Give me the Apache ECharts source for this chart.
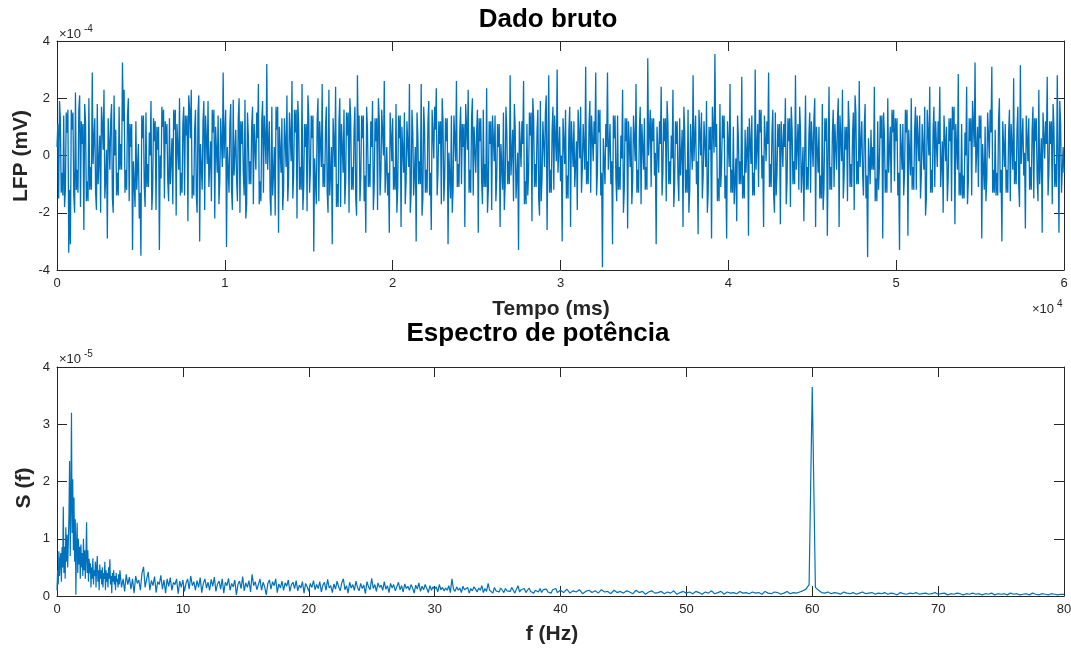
<!DOCTYPE html>
<html>
<head>
<meta charset="utf-8">
<script src="https://cdn.jsdelivr.net/npm/echarts@6/dist/echarts.min.js"></script>
<style>
  html, body { margin: 0; padding: 0; background: #fff; }
  #main { width: 1071px; height: 650px; }
</style>
</head>
<body>
<div id="main"></div>
<script>
// sinal bruto, unidades de 1e-4 mV
// amostras em t = i*100 ms
var dt = 100;
var lfp0a20 = [
  0.3, -1.5, 1.3, -0.6, 1.4, -1.2, 0.8, -3.4, -3.1, 0.9, -1.4, 2.2, -0.5, 1.6, -1.8, 0.4, -2.6, 1.2, -0.9, 2.0,
  -0.4, 2.9, 0.6, -1.3, 1.8, -0.2, -2.0, 1.1, 2.3, -0.8, -2.9, 0.5, 1.2, -1.5, 2.1, 0.9, -0.6, 1.7, 0.4, 3.25,
  2.3, -0.5, 1.4, -1.6, 0.3, -3.3, -1.0, 1.2, -0.4, -2.2, -3.5, 0.6, -1.1, 1.5, -0.3, 0.8, 1.9, -1.2, 0.5, -1.9,
  0.2, -3.3, -0.8, 1.0, -1.5, 0.4, -0.9, 1.3, -0.2, -1.7, 0.9, -2.1, 0.3, 2.0, -0.6, 1.1, -1.4, 0.7, -2.3, 1.6,
  2.3, -0.7, 0.9, -1.4, 1.5, -3.0, -0.4, 1.2, -1.9, 0.6, 1.9, -0.3, -1.6, 0.8, -2.2, 0.2, 1.4, -0.9, 0.5, 2.9,
  0.8, -3.2, -0.5, 1.1, -1.2, 1.95, 0.1, -0.8, 1.3, -2.0, 0.4, -0.6, 1.95, -1.7, 0.7, -0.2, 1.0, -1.7, 0.3, 1.5,
  2.5, -0.9, 1.2, -1.3, 0.6, 3.2, 0.4, -1.5, 1.7, -0.6, -2.1, 0.9, -2.7, 0.2, 1.3, -1.2, 0.5, 2.1, -0.8, 0.7,
  2.6, -0.7, 0.8, -2.2, 1.1, -0.4, 2.5, -1.1, 0.3, -1.95, 1.4, -0.5, 0.6, -3.35, -0.9, 1.2, -1.6, 0.4, 2.5, -0.3,
  1.0, -1.3, 2.3, -0.6, -3.1, 0.5, 2.4, -1.0, 1.2, -1.8, 0.3, 1.6, -0.9, 0.7, -2.0, 1.3, -0.4, 0.9, -1.5, 2.8,
  1.4, -0.8, 0.6, -1.6, -2.7, 0.9, -0.3, 1.2, 1.9, -1.1, 0.5, -1.9, 1.3, -0.6, 0.8, 2.6, -0.5, -1.4, -2.7, 0.7
];
var lfp20a40 = [
  1.3, -0.4, 1.8, -1.2, 0.6, -2.5, 0.2, 1.5, -0.9, 0.4, 2.5, -1.3, 0.8, -0.6, -3.0, 0.7, -0.2, 2.5, -1.5, 0.9,
  -0.5, 1.1, -1.4, -2.6, 0.8, 1.7, 2.35, -0.6, 0.4, -1.7, 1.2, -0.8, 0.5, -3.1, -0.7, 1.4, -1.2, 0.6, 2.6, -0.3,
  0.9, -1.0, 0.3, -2.5, 1.0, 2.3, -0.5, 1.3, -1.4, 0.2, 0.8, -2.7, 0.5, -0.9, 1.6, -0.3, 2.35, -1.2, 0.4, -1.9,
  0.6, 1.4, -0.8, 0.3, -2.5, -0.4, 1.5, -1.1, 0.9, -0.2, 2.8, 0.1, -1.6, 1.0, -0.7, -3.3, 0.4, 1.2, 2.6, -0.9,
  1.1, -0.6, 0.7, -2.3, 1.3, -0.3, 0.8, -1.5, 1.9, -0.8, 0.4, 1.5, -2.6, 2.8, -0.5, 0.9, -1.2, 0.6, 3.0, 0.2,
  -0.9, -3.0, 0.5, 1.6, -0.7, 0.9, -2.5, 0.4, 1.2, -0.3, -1.9, 0.8, 1.7, -0.5, 0.3, 3.1, -0.2, 1.1, -1.3, 0.6,
  1.2, 2.9, -0.6, 0.8, -1.4, -3.9, -0.2, 1.1, 2.9, 0.3, -1.0, -3.1, 0.6, -0.8, 1.4, -0.4, 0.7, 2.3, -1.2, 0.5,
  -2.55, 0.4, 1.0, -0.9, 0.6, 2.5, -0.5, 0.9, -1.7, 0.3, 1.3, -0.4, 3.4, 0.8, -1.1, 0.5, -0.7, -3.1, 0.2, 1.2,
  2.4, -0.6, 0.5, -1.6, 1.1, -0.2, 0.7, 2.3, -1.0, 0.4, -0.8, 1.3, 0.1, -2.5, 0.9, -0.5, 1.6, -1.2, 0.3, 2.8,
  0.6, -1.0, -2.75, 0.8, 1.5, -0.7, 0.4, 1.9, -1.3, 0.2, -2.9, 0.9, 3.55, 1.1, -0.8, 1.8, -0.3, 0.6, -1.5, -2.9
];
var lfp40a60 = [
  0.4, 2.5, -0.5, 1.0, -0.9, -2.3, 0.6, -0.2, 2.75, -0.7, 0.9, 0.2, -2.8, 0.5, 1.4, -0.6, 3.0, 0.3, -1.1, 0.8,
  -0.8, -2.5, 0.6, 1.2, 2.9, -0.3, 0.8, -1.4, 1.5, -0.6, 0.3, -2.4, 0.4, 1.1, 2.0, -0.9, 0.5, -1.8, 0.9, -0.2,
  2.8, 0.3, -1.2, 0.9, -0.5, -2.3, 2.1, -0.4, 0.7, -1.3, 0.4, 1.3, -2.5, 0.2, 1.0, -0.7, 1.8, -1.1, 0.5, -2.8,
  2.4, -0.4, 0.8, -1.1, 0.3, 1.2, -2.5, 0.6, 2.3, -0.7, 0.2, -1.6, 1.1, -0.3, 0.7, -1.9, 1.5, -0.2, 2.6, 0.4,
  -0.6, 1.0, -1.5, -3.55, -0.2, 0.9, 0.3, 2.4, -0.8, 1.2, -0.4, 0.6, -2.9, 0.7, -0.5, 2.0, 0.2, -1.3, 0.8, -0.9,
  0.5, -1.4, -3.3, 0.3, 1.1, -0.6, 0.8, -2.8, 0.1, 2.0, -0.4, 0.9, -1.2, 0.6, 1.4, -0.7, 0.3, 1.7, -1.5, 0.8,
  2.4, -0.5, 0.9, -1.1, 0.4, 1.2, 2.4, -0.3, -2.0, 0.6, 1.0, -0.8, 0.5, -1.6, 0.9, -2.4, 0.3, 2.85, -0.6, 1.1,
  -0.7, 0.8, 2.4, -0.9, 0.5, -1.4, 1.1, 3.25, 0.2, -1.1, 0.6, -2.9, -0.4, 1.0, -0.8, 0.7, 1.6, 3.1, -0.5, 0.9,
  -0.6, 1.2, -1.3, -3.0, 0.4, 1.1, -0.5, 0.8, -1.6, 0.3, 2.7, -0.2, 0.9, -1.0, 3.15, 0.5, -0.7, -2.55, 0.6, 1.3,
  -0.4, 0.9, -1.5, 0.5, -0.8, 2.3, -0.2, -2.7, 0.7, 1.2, 2.75, -0.6, 0.4, -1.7, 1.0, -0.3, 2.8, -2.7, 1.1, -0.5,
  -0.6
];
// amostras intermediarias em t = i*100 + 50 ms
var meio0a20 = [
  1.1, 1.9, -1.3, -1.4, -1.8, 1.5, 1.6, -1.2, 1.6, 1.5, -2.0, -1.2, -1.3, 2.1, 1.2, 1.1, 1.8, -1.6, -1.6, -1.2,
  -1.2, -0.3, 1.3, -1.9, -1.0, 0.7, 1.7, 0.2, -1.5, 0.2, 1.3, -0.5, 1.8, -2.0, 0.0, -1.4, -1.4, -0.5, -0.5, 1.2,
  -1.3, -1.2, 2.0, 1.1, 1.1, -0.2, -1.8, -1.2, 0.4, -1.3, 1.4, 1.4, -1.8, -1.1, -1.1, 0.0, -1.9, 1.3, 1.2, 1.0,
  1.0, 0.0, 1.7, 1.6, 1.2, 1.1, -1.6, -1.0, 0.6, 1.6, 1.6, 1.1, -0.5, -1.4, -1.3, 1.7, 1.4, 1.4, 2.1, 0.6,
  -1.5, -1.4, 1.6, -2.0, 2.1, 0.4, -1.2, 1.9, 1.4, -0.3, -1.1, 0.5, 1.6, 1.6, 1.0, -0.6, -1.7, 1.3, -0.4, -0.1,
  1.6, 0.3, -1.3, 1.8, -1.9, -0.7, 0.9, -1.6, 2.0, 1.2, 1.2, -1.4, -2.2, 1.5, -1.0, -1.0, 1.7, 1.1, -0.5, 0.6,
  -1.7, -1.6, 1.9, 1.4, -0.3, -0.5, 1.2, -2.1, -1.4, 0.3, 1.7, 1.7, 1.0, -0.6, -1.9, 1.3, -0.4, -1.6, 1.5, -0.2,
  -1.5, 1.6, 1.6, 1.9, -1.2, -1.2, -1.9, 1.1, 1.1, 2.1, -1.3, 1.4, 1.4, -0.1, -1.7, 2.0, 1.2, -0.4, -1.1, -1.1,
  1.7, -2.0, -1.4, 0.3, 1.3, -0.4, -1.8, -1.8, 2.0, 1.1, -0.6, -1.7, 1.5, 1.5, 2.0, -1.2, -1.2, 1.7, -2.1, 0.5,
  -1.6, 1.4, 1.4, -0.7, 1.7, -1.1, -1.1, 0.3, -1.9, 1.3, 1.3, 2.0, -1.4, 1.6, 0.0, -1.3, 0.3, -0.6, 1.5, -0.2
];
var meio20a40 = [
  -1.2, -1.2, -2.0, 1.4, 1.4, 1.0, -0.6, -1.7, 1.2, -0.4, -2.0, 1.6, -1.4, 0.3, 1.5, -1.0, -1.0, -2.1, 1.7, -1.3,
  -1.3, 1.9, -0.6, 1.6, -0.1, 0.9, -1.4, 1.2, 1.2, 2.0, -1.6, 1.3, 1.3, 0.1, -1.5, -2.0, 1.4, -0.2, -1.1, -1.1,
  1.7, 1.1, 1.1, 1.8, 0.2, -1.3, -1.3, 2.0, 1.0, -0.6, 1.6, 1.3, 1.3, -1.7, -1.1, -1.1, -2.0, 1.2, 1.2, 1.4,
  -0.2, -1.6, 1.1, 1.1, 0.4, -1.2, -1.9, 1.7, -1.0, -1.0, -0.7, 0.9, 1.8, -1.5, 0.1, 1.2, -0.4, 0.4, -1.7, -1.7,
  -1.4, 1.5, 1.5, 2.0, -1.1, -1.1, 1.6, -2.1, -1.6, 1.2, -0.4, 2.1, 0.1, -1.3, -1.3, 1.7, 1.4, -0.2, -0.6, 1.0,
  0.0, 1.3, -0.3, -1.5, -1.5, 1.7, 1.2, -0.4, -1.1, 0.5, 1.6, -0.1, -1.3, 1.1, -0.5, -1.0, -1.0, 1.9, 1.4, -0.2,
  0.4, -1.4, 1.6, 1.6, -0.6, 0.6, -1.0, 0.3, -0.5, 1.1, -0.2, 1.4, 1.4, -1.6, -1.2, -1.2, -0.1, -2.0, 1.3, 1.3,
  1.2, -0.4, -1.7, 1.4, -0.2, -1.3, -1.3, 1.7, 1.1, -0.5, -1.2, -1.2, 0.0, 1.6, 1.3, 1.3, 0.1, 1.0, -0.6, 0.4,
  -1.4, 1.3, 1.3, 1.9, -1.0, -1.0, -0.1, -1.8, 1.2, 1.2, -1.6, -0.7, 0.9, 1.7, -1.3, -1.3, -2.0, 1.1, -0.5, -0.2,
  1.4, -0.2, 1.6, 0.0, -1.5, 1.2, -0.4, -2.0, 1.0, 1.0, 1.7, 0.1, 0.3, -1.6, -1.6, -1.1, 1.4, 1.4, -0.7, 1.2
];
var meio40a60 = [
  -0.4, -1.3, -1.3, -1.7, -0.1, 1.4, -1.0, -1.0, -1.5, -1.5, -0.6, 1.0, 1.3, -0.3, -1.4, -1.4, -0.5, 1.1, 1.6, 1.6,
  0.0, 1.4, -0.2, 0.4, -1.1, -1.1, 1.6, -2.0, -1.4, 1.1, 1.1, 1.2, -0.4, 0.3, -1.7, 1.3, 1.3, 1.7, -1.0, -1.0,
  -0.5, 1.1, 1.7, -1.3, 0.3, 0.1, -1.2, -1.2, 1.5, 1.2, -0.4, 2.0, 1.0, -0.6, -1.5, -1.5, -1.9, 1.3, 1.3, 0.1,
  -1.2, -1.2, 1.6, 1.1, -0.5, 2.0, 1.4, -0.2, -1.5, 1.0, 1.0, 1.9, -1.1, -1.1, 1.5, 2.1, -1.0, -1.0, -0.4, 1.2,
  -1.4, 1.8, -0.7, 0.6, -1.0, -0.5, -0.5, -1.6, -1.6, -1.2, 1.4, 1.4, 1.5, -1.3, -1.3, -0.6, 1.0, 1.6, 1.6, 1.3,
  1.3, -0.6, 1.1, -0.5, -1.4, 1.6, 1.6, 0.9, -0.7, -1.2, -1.2, 1.7, 1.4, -0.2, -1.5, 1.1, -0.5, -2.1, 1.6, 0.0,
  -1.3, -1.3, 1.7, 1.2, -0.4, 0.4, -1.1, 0.5, 1.4, -0.2, -1.6, 1.3, 1.3, 1.7, 1.7, 1.1, -0.5, -1.4, -1.4, -1.5,
  -1.5, 0.0, -1.7, 1.3, 1.3, 1.9, 0.3, -0.6, 1.0, 1.4, 1.4, 0.4, -1.2, -1.6, 1.5, -0.1, 0.8, -1.3, -1.3, -1.4,
  -1.4, 2.0, -0.5, 1.2, -0.4, -1.3, -1.3, 1.6, 1.1, -0.5, -1.0, -1.0, 1.7, -1.8, -0.3, 1.3, 0.1, 1.4, -0.2, -1.2,
  -1.2, 1.7, 1.3, 1.3, -1.6, -1.0, 0.6, 1.5, -0.1, 0.4, -1.4, 1.2, 1.2, 1.8, -1.1, -1.1, 0.0, 1.9, -1.3, 0.3
];

// espectro, unidades de 1e-5
// 0 a 4.95 Hz, passo 0.05 Hz
var specA = [
  0.1, 0.45, 0.2, 0.78, 0.35, 0.6, 0.75, 0.25, 0.85, 0.5,
  1.56, 0.4, 0.86, 0.3, 1.2, 0.6, 1.07, 0.5, 0.95, 1.4,
  2.36, 0.7, 1.6, 3.2, 1.1, 2.04, 0.8, 1.72, 0.6, 1.34,
  0.02, 0.9, 1.28, 0.4, 1.0, 0.55, 0.86, 0.3, 0.9, 0.5,
  0.75, 0.35, 1.0, 0.45, 0.8, 0.3, 0.7, 1.29, 0.4, 0.8,
  0.25, 0.65, 0.4, 0.57, 0.15, 0.5, 0.3, 0.66, 0.2, 0.45,
  0.35, 0.6, 0.15, 0.5, 0.7, 0.25, 0.45, 0.1, 0.55, 0.3,
  0.45, 0.2, 0.5, 0.15, 0.4, 0.3, 0.6, 0.1, 0.45, 0.25,
  0.4, 0.15, 0.5, 0.3, 0.64, 0.2, 0.35, 0.05, 0.4, 0.25,
  0.45, 0.2, 0.35, 0.1, 0.4, 0.25, 0.3, 0.15, 0.38, 0.2
];
// 5 a 39.875 Hz, passo 0.125 Hz
var specB = [
  0.45, 0.15, 0.3, 0.08, 0.38, 0.2, 0.33, 0.12,
  0.3, 0.05, 0.35, 0.22, 0.28, 0.1, 0.4, 0.51,
  0.15, 0.3, 0.42, 0.1, 0.27, 0.18, 0.34, 0.06,
  0.25, 0.2, 0.36, 0.12, 0.28, 0.05, 0.3, 0.17,
  0.32, 0.1, 0.24, 0.2, 0.3, 0.04, 0.26, 0.15,
  0.28, 0.08, 0.22, 0.3, 0.12, 0.35, 0.18, 0.25,
  0.1, 0.27, 0.15, 0.32, 0.06, 0.22, 0.3, 0.14,
  0.24, 0.1, 0.29, 0.17, 0.33, 0.08, 0.21, 0.26,
  0.12, 0.3, 0.05, 0.24, 0.18, 0.31, 0.1, 0.22,
  0.16, 0.28, 0.02, 0.2, 0.26, 0.13, 0.34, 0.09,
  0.23, 0.15, 0.27, 0.07, 0.38, 0.18, 0.25, 0.11,
  0.2, 0.3, 0.1, 0.24, 0.16, 0.02, 0.22, 0.28,
  0.12, 0.25, 0.18, 0.3, 0.06, 0.21, 0.14, 0.26,
  0.1, 0.23, 0.17, 0.28, 0.08, 0.2, 0.24, 0.13,
  0.27, 0.09, 0.19, 0.14, 0.25, 0.05, 0.22, 0.16,
  0.08, 0.22, 0.15, 0.27, 0.11, 0.2, 0.13, 0.25,
  0.07, 0.19, 0.24, 0.1, 0.29, 0.14, 0.18, 0.06,
  0.21, 0.12, 0.26, 0.16, 0.09, 0.23, 0.3, 0.11,
  0.18, 0.05, 0.24, 0.14, 0.2, 0.1, 0.26, 0.15,
  0.09, 0.22, 0.13, 0.19, 0.04, 0.25, 0.16, 0.11,
  0.31, 0.13, 0.2, 0.08, 0.23, 0.15, 0.19, 0.1,
  0.25, 0.12, 0.18, 0.06, 0.22, 0.14, 0.2, 0.09,
  0.16, 0.24, 0.11, 0.18, 0.07, 0.21, 0.13, 0.17,
  0.1, 0.2, 0.14, 0.05, 0.19, 0.12, 0.23, 0.08,
  0.17, 0.11, 0.2, 0.13, 0.06, 0.18, 0.1, 0.16,
  0.12, 0.16, 0.07, 0.2, 0.11, 0.15, 0.09, 0.14,
  0.1, 0.18, 0.06, 0.3, 0.12, 0.08, 0.16, 0.1,
  0.14, 0.06, 0.17, 0.11, 0.09, 0.15, 0.05, 0.13,
  0.09, 0.16, 0.12, 0.07, 0.14, 0.1, 0.18, 0.06,
  0.13, 0.08, 0.22, 0.1, 0.12, 0.05, 0.15, 0.09,
  0.11, 0.07, 0.14, 0.1, 0.06, 0.13, 0.09, 0.12,
  0.08, 0.15, 0.1, 0.05, 0.12, 0.18, 0.07, 0.11,
  0.09, 0.13, 0.06, 0.1, 0.14, 0.08, 0.11, 0.05,
  0.1, 0.12, 0.07, 0.13, 0.06, 0.11, 0.09, 0.12,
  0.07, 0.1, 0.05, 0.11, 0.08, 0.13, 0.06, 0.09
];
// 40 a 80 Hz, passo 0.25 Hz
var specC = [
  0.1, 0.06, 0.12, 0.05, 0.09, 0.07, 0.11, 0.04, 0.08, 0.1, 0.06, 0.09, 0.05, 0.11, 0.07, 0.08, 0.04, 0.1, 0.06, 0.08,
  0.05, 0.09, 0.07, 0.04, 0.1, 0.06, 0.08, 0.03, 0.07, 0.09, 0.05, 0.06, 0.08, 0.04, 0.07, 0.05, 0.09, 0.03, 0.06, 0.08,
  0.05, 0.07, 0.04, 0.08, 0.06, 0.03, 0.07, 0.05, 0.09, 0.04, 0.06, 0.08, 0.03, 0.07, 0.05, 0.06, 0.04, 0.08, 0.05, 0.06,
  0.04, 0.07, 0.05, 0.06, 0.03, 0.08, 0.05, 0.04, 0.07, 0.06, 0.03, 0.05, 0.08, 0.04, 0.06, 0.05, 0.07, 0.09, 0.12, 0.2,
  3.65, 0.15, 0.1, 0.06, 0.05, 0.07, 0.04, 0.06, 0.05, 0.03, 0.07, 0.05, 0.04, 0.06, 0.03, 0.05, 0.07, 0.04, 0.05, 0.06,
  0.03, 0.05, 0.04, 0.06, 0.03, 0.05, 0.04, 0.02, 0.06, 0.04, 0.03, 0.05, 0.04, 0.06, 0.03, 0.04, 0.05, 0.03, 0.04, 0.06,
  0.03, 0.04, 0.05, 0.02, 0.04, 0.03, 0.05, 0.04, 0.02, 0.04, 0.03, 0.05, 0.03, 0.04, 0.02, 0.04, 0.03, 0.05, 0.02, 0.04,
  0.03, 0.04, 0.02, 0.05, 0.03, 0.04, 0.02, 0.03, 0.04, 0.02, 0.05, 0.03, 0.02, 0.04, 0.03, 0.02, 0.04, 0.03, 0.02, 0.03,
  0.03
];

var principal = lfp0a20.concat(lfp20a40, lfp40a60);
var meio = meio0a20.concat(meio20a40, meio40a60);
var lfp = [];
for (var i = 0; i < meio.length; i++) {
  lfp.push([i * dt, principal[i]]);
  lfp.push([i * dt + dt / 2, meio[i]]);
}
lfp.push([meio.length * dt, principal[meio.length]]);

var espectro = [];
specA.forEach(function (v, i) { espectro.push([i * 0.05, v]); });
specB.forEach(function (v, i) { espectro.push([5 + i * 0.125, v]); });
specC.forEach(function (v, i) { espectro.push([40 + i * 0.25, v]); });

var fonte = '"Liberation Sans", Arial, Helvetica, sans-serif';
var cinza = '#262626';
var azul = '#0072BD';

function eixo(grid, pos, min, max, intervalo, comRotulo, fmt) {
  return {
    type: 'value', gridIndex: grid, position: pos,
    min: min, max: max, interval: intervalo,
    axisLine: { show: true, onZero: false, lineStyle: { color: cinza, width: 1 } },
    axisTick: { show: true, inside: true, length: 10, lineStyle: { color: cinza, width: 1 } },
    axisLabel: {
      show: comRotulo, margin: 7, color: cinza, fontSize: 13, fontFamily: fonte,
      formatter: fmt
    },
    splitLine: { show: false }
  };
}

function texto(x, y, t, tam, peso, cor, rot) {
  return {
    type: 'text', x: x, y: y, rotation: rot || 0,
    style: {
      text: t, fill: cor, font: peso + ' ' + tam + 'px ' + fonte,
      textAlign: 'center', textVerticalAlign: 'middle',
      align: 'center', verticalAlign: 'middle'
    }
  };
}

function expoente(x, y, e) {
  return [
    {
      type: 'text', x: x, y: y,
      style: { text: '\u00d710', fill: cinza, font: '13px ' + fonte, textAlign: 'left', textVerticalAlign: 'middle', align: 'left', verticalAlign: 'middle' }
    },
    {
      type: 'text', x: x + 25, y: y - 5,
      style: { text: e, fill: cinza, font: '10px ' + fonte, textAlign: 'left', textVerticalAlign: 'middle', align: 'left', verticalAlign: 'middle' }
    }
  ];
}

var myChart = echarts.init(document.getElementById('main'));

var option = {
  animation: false,
  backgroundColor: '#fff',
  grid: [
    { left: 57, right: 7, top: 41, height: 229, show: false, outerBoundsMode: 'none', containLabel: false },
    { left: 57, right: 7, top: 367, height: 229, show: false, outerBoundsMode: 'none', containLabel: false }
  ],
  xAxis: [
    eixo(0, 'bottom', 0, 60000, 10000, true, function (v) { return v / 10000; }),
    eixo(0, 'top', 0, 60000, 10000, false),
    eixo(1, 'bottom', 0, 80, 10, true),
    eixo(1, 'top', 0, 80, 10, false)
  ],
  yAxis: [
    eixo(0, 'left', -4, 4, 2, true),
    eixo(0, 'right', -4, 4, 2, false),
    eixo(1, 'left', 0, 4, 1, true),
    eixo(1, 'right', 0, 4, 1, false)
  ],
  series: [
    {
      type: 'line', xAxisIndex: 0, yAxisIndex: 0, data: lfp,
      showSymbol: false, silent: true,
      lineStyle: { color: azul, width: 1.3 }
    },
    {
      type: 'line', xAxisIndex: 2, yAxisIndex: 2, data: espectro,
      showSymbol: false, silent: true,
      lineStyle: { color: azul, width: 1.2 }
    }
  ],
  graphic: [
    texto(548, 20, 'Dado bruto', 26, 'bold', '#000'),
    texto(551, 309, 'Tempo (ms)', 21, 'bold', cinza),
    texto(21, 156, 'LFP (mV)', 21, 'bold', cinza, Math.PI / 2),
    texto(538, 334, 'Espectro de pot\u00eancia', 26, 'bold', '#000'),
    texto(552, 634, 'f (Hz)', 21, 'bold', cinza),
    texto(24, 488, 'S (f)', 21, 'bold', cinza, Math.PI / 2)
  ].concat(expoente(59, 34, '-4'), expoente(59, 359, '-5'), expoente(1032, 309, '4'))
};

myChart.setOption(option);
</script>
</body>
</html>
